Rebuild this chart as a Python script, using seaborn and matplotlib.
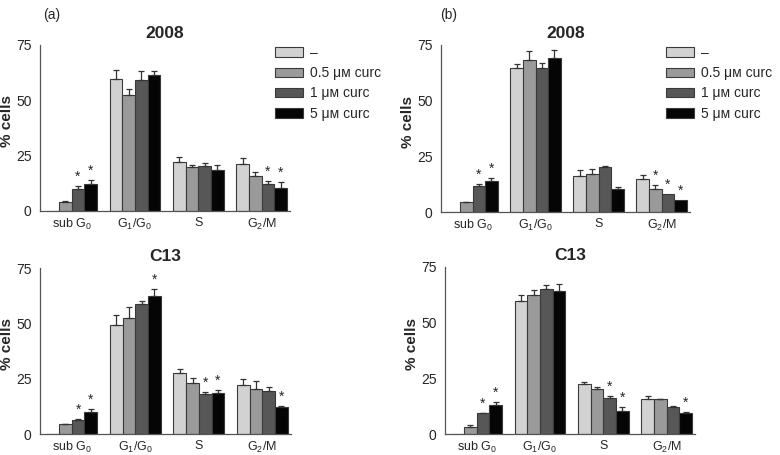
import numpy as np
import pandas as pd
import matplotlib
matplotlib.use("Agg")
import matplotlib.pyplot as plt
import seaborn as sns

# categories
phases = ['sub G$_0$', 'G$_1$/G$_0$', 'S', 'G$_2$/M']
treatments = ['–', '0.5 μᴍ curc', '1 μᴍ curc', '5 μᴍ curc']
colors = ['#d2d2d2', '#9a9a9a', '#575757', '#050505']

# values: rows = phase, cols = treatment
a_2008 = [[0.0, 4.2, 9.9, 12.2],
          [59.5, 52.3, 59.2, 61.3],
          [22.0, 19.7, 20.3, 18.4],
          [21.2, 16.0, 12.0, 10.5]]
a_2008_err = [[0.0, 0.3, 1.4, 1.8],
              [4.0, 2.8, 4.0, 1.8],
              [2.5, 1.1, 1.5, 2.2],
              [2.6, 1.8, 1.5, 2.6]]
a_2008_star = [(0, 2), (0, 3), (3, 2), (3, 3)]

b_2008 = [[0.0, 4.3, 11.8, 14.1],
          [64.8, 68.3, 64.8, 69.2],
          [16.2, 17.2, 20.4, 10.5],
          [14.7, 10.3, 8.1, 5.4]]
b_2008_err = [[0.0, 0.3, 0.8, 1.0],
              [1.7, 4.0, 2.0, 3.4],
              [2.7, 2.1, 0.3, 0.6],
              [1.8, 1.8, 0.0, 0.0]]
b_2008_star = [(0, 2), (0, 3), (3, 1), (3, 2), (3, 3)]

a_c13 = [[0.0, 4.5, 6.5, 9.8],
         [49.4, 52.4, 58.7, 62.2],
         [27.6, 23.0, 18.1, 18.4],
         [22.0, 20.5, 19.6, 12.0]]
a_c13_err = [[0.0, 0.2, 0.2, 1.5],
             [4.4, 5.0, 1.4, 3.2],
             [1.8, 2.3, 0.9, 1.5],
             [2.7, 3.3, 1.8, 0.5]]
a_c13_star = [(0, 2), (0, 3), (1, 3), (2, 2), (2, 3), (3, 3)]

b_c13 = [[0.0, 3.3, 9.3, 13.0],
         [59.8, 62.3, 65.1, 64.2],
         [22.4, 20.1, 16.0, 10.5],
         [15.8, 15.5, 12.2, 9.3]]
b_c13_err = [[0.0, 0.6, 0.2, 1.5],
             [2.7, 2.4, 1.8, 3.1],
             [0.8, 1.1, 1.1, 1.5],
             [1.3, 0.4, 0.5, 0.4]]
b_c13_star = [(0, 2), (0, 3), (2, 2), (2, 3), (3, 3)]

sns.set_style('white')
plt.rcParams['font.family'] = ['Liberation Sans', 'DejaVu Sans']
plt.rcParams['mathtext.fontset'] = 'custom'
plt.rcParams['mathtext.rm'] = 'Liberation Sans'
plt.rcParams['mathtext.it'] = 'Liberation Sans'

fig = plt.figure(figsize=(7.8, 4.55), dpi=100)


def panel(rect, title, vals, errs, stars, legend_at=None):
    ax = fig.add_axes(rect)
    rows = []
    for i, ph in enumerate(phases):
        for j, tr in enumerate(treatments):
            rows.append({'phase': ph, 'treatment': tr, 'value': vals[i][j]})
    df = pd.DataFrame(rows)
    sns.barplot(data=df, x='phase', y='value', hue='treatment',
                order=phases, hue_order=treatments, palette=colors,
                saturation=1, width=0.8, errorbar=None,
                edgecolor='#3a3a3a', linewidth=0.8, ax=ax, legend=legend_at is not None)
    # error bars (upper only) and stars
    bar_groups = list(ax.containers)
    for j, cont in enumerate(bar_groups):
        for i, bar in enumerate(cont.patches):
            x = bar.get_x() + bar.get_width() / 2
            h = bar.get_height()
            e = errs[i][j]
            if h > 0 and e > 0:
                ax.errorbar([x], [h], yerr=[[0], [e]], fmt='none', ecolor='#333333',
                            elinewidth=0.9, capsize=2.5, capthick=0.9)
            if (i, j) in stars:
                ax.text(x, h + e + 1.0, '*', ha='center', va='bottom', fontsize=10)
    ax.set_ylim(0, 75)
    ax.set_yticks([0, 25, 50, 75])
    ax.set_xlim(-0.5, 3.45)
    ax.set_xlabel('')
    ax.set_ylabel('% cells', fontsize=11, fontweight='bold')
    ax.yaxis.set_label_coords(-0.105, 0.54)
    ax.set_title(title, fontsize=12.5, fontweight='bold', pad=5)
    sns.despine(ax=ax)
    for s in ['left', 'bottom']:
        ax.spines[s].set_color('#555555')
        ax.spines[s].set_linewidth(0.9)
    ax.spines['left'].set_bounds(0, 75)
    ax.tick_params(axis='y', length=4, width=0.9, color='#555555', labelsize=10, pad=2)
    ax.tick_params(axis='x', length=0, labelsize=9, pad=4)
    if legend_at is not None:
        ax.legend(loc='upper left', bbox_to_anchor=legend_at, bbox_transform=fig.transFigure,
                  frameon=False, fontsize=10, handlelength=2.0, handleheight=0.65,
                  handletextpad=0.5, labelspacing=0.45, borderpad=0, borderaxespad=0)
    return ax


panel([40 / 780, 1 - 211 / 455, 250 / 780, 166 / 455], '2008', a_2008, a_2008_err, a_2008_star,
      legend_at=(275 / 780, 1 - 46 / 455))
panel([441 / 780, 1 - 212 / 455, 249 / 780, 167 / 455], '2008', b_2008, b_2008_err, b_2008_star,
      legend_at=(666 / 780, 1 - 46 / 455))
panel([40 / 780, 1 - 434 / 455, 251 / 780, 166 / 455], 'C13', a_c13, a_c13_err, a_c13_star)
panel([445 / 780, 1 - 434 / 455, 250 / 780, 167 / 455], 'C13', b_c13, b_c13_err, b_c13_star)

fig.text(43 / 780, 1 - 15 / 455, '(a)', fontsize=10, va='center')
fig.text(440 / 780, 1 - 15 / 455, '(b)', fontsize=10, va='center')

fig.savefig('out.png', dpi=100)
